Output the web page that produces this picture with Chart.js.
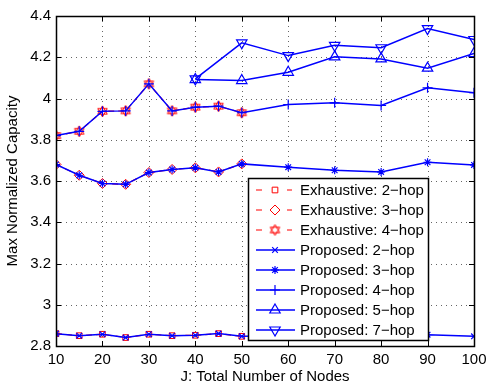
<!DOCTYPE html>
<html>
<head>
<meta charset="utf-8">
<script src="https://cdn.jsdelivr.net/npm/chart.js@4/dist/chart.umd.min.js"></script>
<style>
  body { margin: 0; background: #fff; }
</style>
</head>
<body>
<canvas id="cap" width="486" height="386"></canvas>
<script>
const canvas = document.getElementById('cap');
const ctx = canvas.getContext('2d');

//// x values
const xExh = [10, 15, 20, 25, 30, 35, 40, 45, 50];
const xAll = [10, 15, 20, 25, 30, 35, 40, 45, 50, 60, 70, 80, 90, 100];
const xHigh = [40, 50, 60, 70, 80, 90, 100];

//// exhaustive search (only up to 50 nodes)
const exh2 = [2.860, 2.850, 2.857, 2.841, 2.857, 2.850, 2.852, 2.860, 2.847];
const exh3 = [3.680, 3.628, 3.588, 3.584, 3.641, 3.656, 3.664, 3.644, 3.683];
const exh4 = [3.820, 3.841, 3.938, 3.940, 4.071, 3.940, 3.958, 3.963, 3.931];

//// proposed
const prop2 = [2.860, 2.850, 2.857, 2.841, 2.857, 2.850, 2.852, 2.860, 2.847, 2.850, 2.850, 2.850, 2.855, 2.847];
const prop3 = [3.680, 3.628, 3.588, 3.584, 3.641, 3.656, 3.664, 3.644, 3.683, 3.667, 3.652, 3.644, 3.691, 3.678];
const prop4 = [3.820, 3.841, 3.938, 3.940, 4.071, 3.940, 3.958, 3.963, 3.931, 3.971, 3.979, 3.966, 4.052, 4.028];
const prop5 = [4.092, 4.087, 4.127, 4.202, 4.192, 4.147, 4.218];
const prop7 = [4.095, 4.270, 4.208, 4.258, 4.246, 4.339, 4.286];

const xTicks = [10, 20, 30, 40, 50, 60, 70, 80, 90, 100];
const yTicks = [2.8, 3.0, 3.2, 3.4, 3.6, 3.8, 4.0, 4.2, 4.4];

const RED = '#ff0000';
const BLUE = '#0000ff';

function pts(xs, ys) {
  return xs.map((x, i) => ({ x: x, y: ys[i] }));
}

// matlab 'h' marker (hexagram) as a little canvas
function hexagram(color) {
  const c = document.createElement('canvas');
  c.width = 13; c.height = 13;
  const g = c.getContext('2d');
  g.strokeStyle = color;
  g.lineWidth = 1;
  const r = 5.5;
  for (const off of [-Math.PI / 2, Math.PI / 2]) {
    g.beginPath();
    for (let k = 0; k < 3; k++) {
      const a = off + k * 2 * Math.PI / 3;
      g.lineTo(6.5 + r * Math.cos(a), 6.5 + r * Math.sin(a));
    }
    g.closePath();
    g.stroke();
  }
  return c;
}

function exhSet(label, ys, style, radius) {
  return {
    label: label,
    data: pts(xExh, ys),
    borderColor: RED,
    backgroundColor: 'rgba(0,0,0,0)',
    borderWidth: 1.2,
    borderDash: [6, 4],
    pointStyle: style,
    pointRadius: radius,
    pointBorderColor: RED,
    pointBackgroundColor: 'rgba(0,0,0,0)',
    pointBorderWidth: 1,
    order: 1
  };
}

function propSet(label, xs, ys, style, radius, rot) {
  return {
    label: label,
    data: pts(xs, ys),
    borderColor: BLUE,
    backgroundColor: 'rgba(0,0,0,0)',
    borderWidth: 1.5,
    pointStyle: style,
    pointRotation: rot || 0,
    pointRadius: radius,
    pointBorderColor: BLUE,
    pointBackgroundColor: 'rgba(0,0,0,0)',
    pointBorderWidth: 1.2,
    order: 0
  };
}

const datasets = [
  exhSet('Exhaustive: 2\u2212hop', exh2, 'rect', 4),
  exhSet('Exhaustive: 3\u2212hop', exh3, 'rectRot', 5),
  exhSet('Exhaustive: 4\u2212hop', exh4, hexagram(RED), 6),
  propSet('Proposed: 2\u2212hop', xAll, prop2, 'crossRot', 4),
  propSet('Proposed: 3\u2212hop', xAll, prop3, 'star', 4),
  propSet('Proposed: 4\u2212hop', xAll, prop4, 'cross', 5),
  propSet('Proposed: 5\u2212hop', xHigh, prop5, 'triangle', 6),
  propSet('Proposed: 7\u2212hop', xHigh, prop7, 'triangle', 6, 180)
];

// dotted grid, box and inward ticks like matlab
const framePlugin = {
  id: 'frame',
  beforeDatasetsDraw(chart) {
    const a = chart.chartArea;
    const xs = chart.scales.x, ys = chart.scales.y;
    const c = chart.ctx;
    c.save();
    c.strokeStyle = 'rgba(0,0,0,0.6)';
    c.lineWidth = 1;
    c.setLineDash([1, 4]);
    xTicks.forEach(v => {
      const px = Math.round(xs.getPixelForValue(v)) + 0.5;
      if (px < a.left + 2 || px > a.right - 2) return;
      c.beginPath(); c.moveTo(px, a.top); c.lineTo(px, a.bottom); c.stroke();
    });
    yTicks.forEach(v => {
      const py = Math.round(ys.getPixelForValue(v)) + 0.5;
      if (py < a.top + 2 || py > a.bottom - 2) return;
      c.beginPath(); c.moveTo(a.left, py); c.lineTo(a.right, py); c.stroke();
    });
    c.restore();
  },
  afterDatasetsDraw(chart) {
    const a = chart.chartArea;
    const xs = chart.scales.x, ys = chart.scales.y;
    const c = chart.ctx;
    c.save();
    c.strokeStyle = '#000';
    c.lineWidth = 1;
    const t = 5;
    xTicks.forEach(v => {
      const px = Math.round(xs.getPixelForValue(v)) + 0.5;
      c.beginPath();
      c.moveTo(px, a.bottom); c.lineTo(px, a.bottom - t);
      c.moveTo(px, a.top); c.lineTo(px, a.top + t);
      c.stroke();
    });
    yTicks.forEach(v => {
      const py = Math.round(ys.getPixelForValue(v)) + 0.5;
      c.beginPath();
      c.moveTo(a.left, py); c.lineTo(a.left + t, py);
      c.moveTo(a.right, py); c.lineTo(a.right - t, py);
      c.stroke();
    });
    c.lineWidth = 1.5;
    c.strokeRect(Math.round(a.left) + 0.5, Math.round(a.top) + 0.5,
      Math.round(a.right - a.left), Math.round(a.bottom - a.top));
    c.restore();
  }
};

// legend box in the lower right, drawn over the lines
const legendPlugin = {
  id: 'boxLegend',
  afterDraw(chart) {
    const c = chart.ctx;
    const left = 248, top = 178, w = 180, rowH = 20;
    const h = rowH * datasets.length + 2;
    c.save();
    c.fillStyle = '#fff';
    c.fillRect(left, top, w, h);
    c.strokeStyle = '#000';
    c.lineWidth = 1.5;
    c.strokeRect(left + 0.5, top + 0.5, w, h);
    c.font = '15px "Liberation Sans", Arial, sans-serif';
    c.textBaseline = 'middle';
    datasets.forEach((ds, i) => {
      const y = top + 12 + i * rowH;
      c.strokeStyle = ds.borderColor;
      c.lineWidth = ds.borderWidth;
      c.setLineDash(ds.borderDash || []);
      c.beginPath(); c.moveTo(left + 8, y); c.lineTo(left + 47, y); c.stroke();
      c.setLineDash([]);
      if (ds.borderDash) {
        c.fillStyle = '#fff';
        c.fillRect(left + 16, y - 7, 23, 14);
      }
      c.strokeStyle = ds.pointBorderColor;
      c.fillStyle = ds.pointBackgroundColor;
      c.lineWidth = ds.pointBorderWidth;
      Chart.helpers.drawPoint(c, {
        pointStyle: ds.pointStyle,
        rotation: ds.pointRotation || 0,
        radius: ds.pointRadius,
        borderWidth: ds.pointBorderWidth
      }, left + 27, y);
      c.fillStyle = '#000';
      c.fillText(ds.label, left + 52, y + 1);
    });
    c.restore();
  }
};

Chart.defaults.color = '#000';
Chart.defaults.font.family = '"Liberation Sans", Arial, sans-serif';
Chart.defaults.font.size = 15;

new Chart(ctx, {
  type: 'line',
  data: { datasets: datasets },
  options: {
    responsive: false,
    animation: false,
    layout: { padding: { left: 0, right: 12, top: 16, bottom: 0 } },
    plugins: {
      legend: { display: false },
      tooltip: { enabled: false }
    },
    scales: {
      x: {
        type: 'linear',
        min: 10,
        max: 100,
        grid: { display: false, drawTicks: false, tickLength: 0 },
        border: { display: false },
        afterFit(scale) {
          scale.height = 40;
          scale.paddingLeft = 0;
          scale.paddingRight = 0;
        },
        afterBuildTicks(scale) { scale.ticks = xTicks.map(v => ({ value: v })); },
        ticks: { padding: 5, maxRotation: 0, autoSkip: false, callback: v => String(v) },
        title: { display: true, text: 'J: Total Number of Nodes', padding: { top: 0, bottom: 0 } }
      },
      y: {
        type: 'linear',
        min: 2.8,
        max: 4.4,
        grid: { display: false, drawTicks: false, tickLength: 0 },
        border: { display: false },
        afterFit(scale) {
          scale.width = 56;
          scale.paddingTop = 0;
          scale.paddingBottom = 0;
        },
        afterBuildTicks(scale) { scale.ticks = yTicks.map(v => ({ value: v })); },
        ticks: { padding: 5, autoSkip: false, callback: v => String(+v.toFixed(1)) },
        title: { display: true, text: 'Max Normalized Capacity', padding: { top: 4, bottom: 0 } }
      }
    }
  },
  plugins: [framePlugin, legendPlugin]
});
</script>
</body>
</html>
